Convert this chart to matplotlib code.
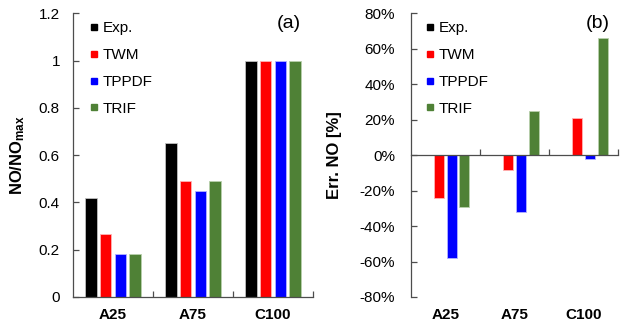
import matplotlib
matplotlib.use('Agg')
import matplotlib.pyplot as plt
import numpy as np
from matplotlib.lines import Line2D
from matplotlib.ticker import FuncFormatter, MultipleLocator
from matplotlib.transforms import blended_transform_factory

plt.rcParams['font.family'] = 'Liberation Sans'
plt.rcParams['mathtext.fontset'] = 'custom'
plt.rcParams['mathtext.rm'] = 'Liberation Sans'
plt.rcParams['mathtext.bf'] = 'Liberation Sans:bold'

cases = ['A25', 'A75', 'C100']
models = ['Exp.', 'TWM', 'TPPDF', 'TRIF']
colors = ['#000000', '#ff0000', '#0000ff', '#4f8136']
edges = ['#bfbfbf', '#ffb3b3', '#b3b3ff', '#b9d0ac']

# normalised NO
no_exp = [0.42, 0.65, 1.0]
no_twm = [0.265, 0.49, 1.0]
no_tppdf = [0.18, 0.45, 1.0]
no_trif = [0.18, 0.49, 1.0]

# relative error of NO
err_exp = [0.0, 0.0, 0.0]
err_twm = [-0.24, -0.085, 0.21]
err_tppdf = [-0.58, -0.32, -0.02]
err_trif = [-0.29, 0.25, 0.66]

axis_col = '#4d4d4d'


def bar_panel(ax, series, ylabel, tag, ypad, label_x):
    x = np.arange(len(cases))
    step, w = 0.185, 0.145
    for k, vals in enumerate(series):
        ax.bar(x + (k - 1.5) * step, vals, w, color=colors[k],
               edgecolor=edges[k], linewidth=0.6, zorder=2)
    ax.set_xlim(-0.5, 2.5)
    for s in ['top', 'right']:
        ax.spines[s].set_visible(False)
    for s in ['left', 'bottom']:
        ax.spines[s].set_color(axis_col)
        ax.spines[s].set_linewidth(0.9)
    ax.spines['bottom'].set_position(('data', 0))

    ax.set_xticks(x)
    ax.tick_params(axis='x', which='major', length=0, labelbottom=False)
    ax.set_xticks([0.5, 1.5, 2.5], minor=True)
    ax.tick_params(axis='x', which='minor', direction='in', length=4,
                   color=axis_col, width=0.9)
    tr = blended_transform_factory(ax.transData, ax.transAxes)
    for i, c in enumerate(cases):
        ax.text(i, -0.04, c, transform=tr, ha='center', va='top',
                fontsize=11, fontweight='bold')

    ax.yaxis.set_major_locator(MultipleLocator(0.2))
    ax.tick_params(axis='y', direction='in', length=4, color=axis_col,
                   width=0.9, labelsize=11, pad=ypad)
    ax.set_ylabel(ylabel, fontsize=12, fontweight='bold')
    ax.yaxis.set_label_coords(label_x, 0.5)

    handles = [Line2D([], [], marker='s', ls='', ms=5, color=c) for c in colors]
    ax.legend(handles, models, loc='upper left', bbox_to_anchor=(0.065, 0.972),
              frameon=False, fontsize=11, handlelength=0.7,
              handletextpad=0.25, labelspacing=0.84, borderpad=0,
              borderaxespad=0)
    ax.text(0.9, 0.965, tag, transform=ax.transAxes, ha='center', va='center',
            fontsize=14)


fig = plt.figure(figsize=(6.29, 3.27), dpi=100)
ax1 = fig.add_axes([73 / 629, 30 / 327, 240 / 629, 283.7 / 327])
ax2 = fig.add_axes([410.7 / 629, 30 / 327, 207.3 / 629, 283.7 / 327])

bar_panel(ax1, [no_exp, no_twm, no_tppdf, no_trif],
          r'$\mathbf{NO/NO_{max}}$', '(a)', 9.4, -0.192)
ax1.set_ylim(0, 1.2)
ax1.yaxis.set_major_formatter(FuncFormatter(lambda v, _: f'{v:g}'))

bar_panel(ax2, [err_exp, err_twm, err_tppdf, err_trif],
          'Err. NO [%]', '(b)', 11.3, -0.331)
ax2.set_ylim(-0.8, 0.8)
ax2.yaxis.set_major_formatter(
    FuncFormatter(lambda v, _: f'{int(round(v * 100))}%'))

fig.savefig('out.png', dpi=100)
